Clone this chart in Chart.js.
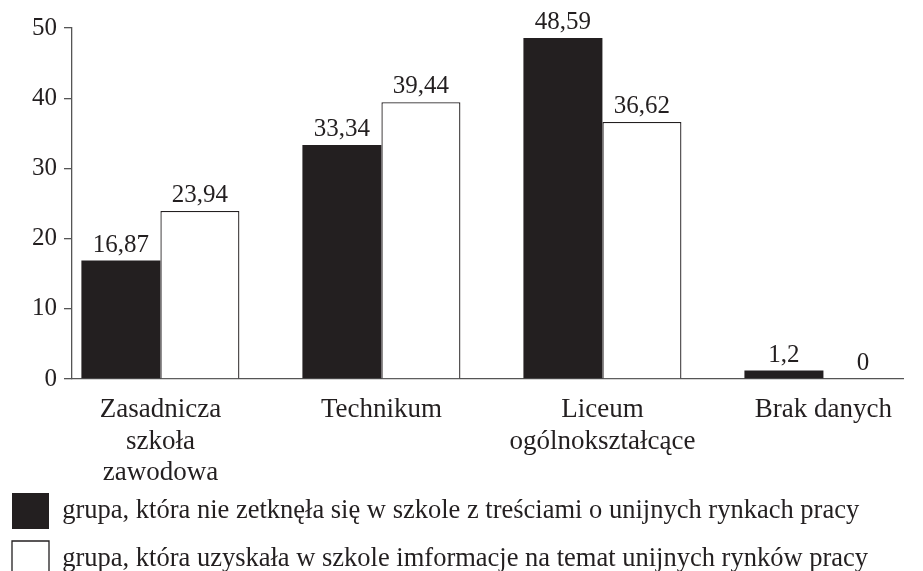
<!DOCTYPE html>
<html>
<head>
<meta charset="utf-8">
<script src="https://cdn.jsdelivr.net/npm/chart.js@4/dist/chart.umd.min.js"></script>
<style>
  body { margin: 0; background: #fff; overflow: hidden; }
  #wrap { width: 923px; height: 587px; position: relative; }
</style>
</head>
<body>
<div id="wrap"><canvas id="myChart"></canvas></div>
<script>
var categories = [["Zasadnicza", "szkoła", "zawodowa"], "Technikum", ["Liceum", "ogólnokształcące"], "Brak danych"];
var seriesNames = [
    "grupa, która nie zetknęła się w szkole z treściami o unijnych rynkach pracy",
    "grupa, która uzyskała w szkole imformacje na temat unijnych rynków pracy"
];
var notTaught = [16.87, 33.34, 48.59, 1.2];
var informed = [23.94, 39.44, 36.62, 0];
var yTicks = [0, 10, 20, 30, 40, 50];

var ink = "#231f20";
var serif = "'Liberation Serif', 'Times New Roman', serif";

function points(values) {
    return values.map(function(v, i) { return { x: i, y: v }; });
}

// value labels above bars, with decimal comma
var valueLabels = {
    id: 'valueLabels',
    afterDatasetsDraw: function(chart) {
        var ctx = chart.ctx;
        ctx.save();
        ctx.font = "25px " + serif;
        ctx.fillStyle = ink;
        ctx.textAlign = "center";
        ctx.textBaseline = "bottom";
        chart.data.datasets.forEach(function(ds, di) {
            chart.getDatasetMeta(di).data.forEach(function(el, i) {
                var txt = String(ds.data[i].y).replace(".", ",");
                ctx.fillText(txt, el.x, el.y - 3);
            });
        });
        ctx.restore();
    }
};

var ctx = document.getElementById("myChart");
var myChart = new Chart(ctx, {
    type: 'bar',
    data: {
        datasets: [{
            label: seriesNames[0],
            data: points(notTaught),
            backgroundColor: ink,
            borderColor: ink,
            borderWidth: 0
        }, {
            label: seriesNames[1],
            data: points(informed),
            backgroundColor: "#ffffff",
            borderColor: ink,
            borderWidth: 1.3
        }]
    },
    options: {
        responsive: true,
        maintainAspectRatio: false,
        animation: false,
        categoryPercentage: 0.715,
        barPercentage: 1.0,
        layout: { padding: { left: 0, right: 20, top: 28, bottom: 0 } },
        plugins: {
            tooltip: { enabled: false },
            legend: {
                position: 'bottom',
                align: 'start',
                labels: {
                    boxWidth: 37,
                    boxHeight: 36,
                    padding: 12,
                    color: ink,
                    font: { family: serif, size: 26.5 }
                }
            }
        },
        scales: {
            x: {
                type: 'linear',
                min: -0.4,
                max: 3.36,
                offset: false,
                grid: { display: false },
                border: { display: true, color: "#555", width: 1.3 },
                afterBuildTicks: function(scale) {
                    scale.ticks = categories.map(function(c, i) { return { value: i }; });
                },
                afterFit: function(scale) { scale.height = 102; },
                ticks: {
                    autoSkip: false,
                    maxRotation: 0,
                    padding: 7,
                    color: ink,
                    font: { family: serif, size: 27, lineHeight: 1.174 },
                    callback: function(v) { return categories[v]; }
                }
            },
            y: {
                min: 0,
                max: 50,
                afterBuildTicks: function(scale) {
                    scale.ticks = yTicks.map(function(v) { return { value: v }; });
                },
                afterFit: function(scale) { scale.width = 72; },
                grid: { drawOnChartArea: false, drawTicks: true, tickLength: 8, color: "#555", lineWidth: 1.3 },
                border: { display: true, color: "#555", width: 1.3 },
                ticks: {
                    padding: 7,
                    color: ink,
                    font: { family: serif, size: 25 }
                }
            }
        }
    },
    plugins: [valueLabels]
});
</script>
</body>
</html>
